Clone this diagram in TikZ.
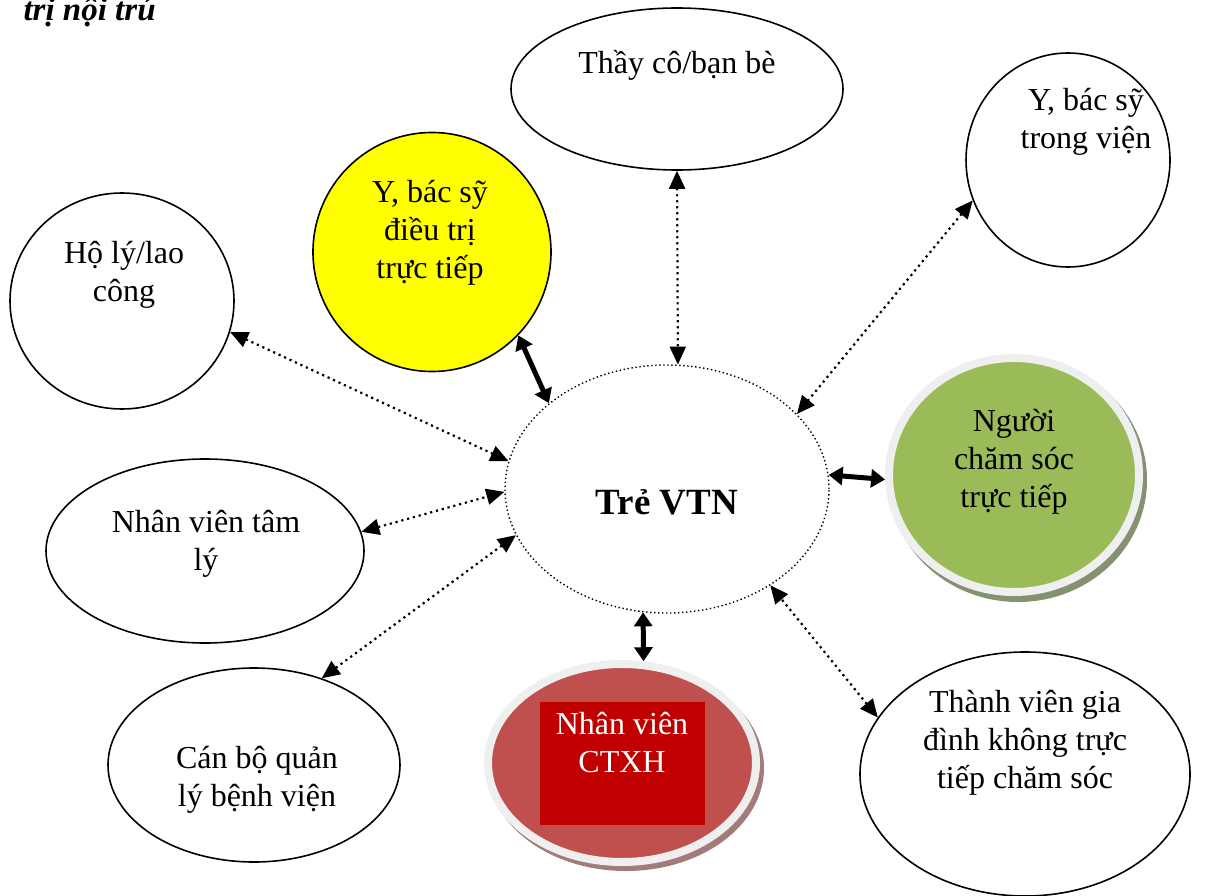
\documentclass[tikz,border=0pt]{standalone}
\usepackage{fontspec}
\setmainfont{Liberation Serif}
\usetikzlibrary{shapes.geometric,arrows.meta}
\definecolor{olivegreen}{HTML}{9BBB59}
\definecolor{olivedark}{HTML}{849270}
\definecolor{softred}{HTML}{C0504D}
\definecolor{softreddark}{HTML}{A27B7A}
\definecolor{deepred}{HTML}{C00000}
\definecolor{rimgray}{HTML}{EFEFEF}
\definecolor{sunyellow}{HTML}{FFFF00}
\tikzset{
  actor/.style={ellipse, draw, line width=1.6pt, inner sep=0pt},
  lbl/.style={align=center, font=\fontsize{32}{38}\selectfont},
  weak/.style={{Triangle[length=18pt,width=16pt]}-{Triangle[length=18pt,width=16pt]},
    line width=2.2pt, dash pattern=on 2.2pt off 3.8pt},
  strong/.style={{Triangle[length=14pt,width=18pt]}-{Triangle[length=14pt,width=18pt]},
    line width=5pt},
}
\begin{document}
\begin{tikzpicture}[x=1pt,y=-1pt]
\useasboundingbox (0,0) rectangle (1220,896);
% heading, cut by the page edge
\node[anchor=base west, font=\fontsize{33}{38}\selectfont\bfseries\itshape] (head) at (20,21) {trị nội trú};

% centre
\node[ellipse, draw, line width=1.4pt, dash pattern=on 1.4pt off 2.6pt,
  minimum width=324pt, minimum height=248pt, inner sep=0pt] (vtn) at (667,489) {};
\node[font=\fontsize{37}{40}\selectfont\bfseries] (vtn-t) at (667,502) {Trẻ VTN};

% plain circles
\node[actor, minimum width=332pt, minimum height=162pt] (thay) at (677,89) {};
\node[lbl] (thay-t) at (677,65) {Thầy cô/bạn bè};
\node[actor, minimum width=204pt, minimum height=214pt] (bsvien) at (1068,160) {};
\node[lbl] (bsvien-t) at (1086,122) {Y, bác sỹ\\trong viện};
\node[actor, fill=sunyellow, minimum width=238pt, minimum height=239pt] (bsdt) at (432,252) {};
\node[lbl] (bsdt-t) at (430,233) {Y, bác sỹ\\điều trị\\trực tiếp};
\node[actor, minimum width=224pt, minimum height=216pt] (holy) at (122,301) {};
\node[lbl] (holy-t) at (124,275) {Hộ lý/lao\\công};
\node[actor, minimum width=318pt, minimum height=184pt] (tamly) at (205,551) {};
\node[lbl] (tamly-t) at (206,544) {Nhân viên tâm\\lý};
\node[actor, minimum width=292pt, minimum height=194pt] (canbo) at (254,765) {};
\node[lbl] (canbo-t) at (257,780) {Cán bộ quản\\lý bệnh viện};
\node[actor, minimum width=330pt, minimum height=244pt] (giadinh) at (1025,774) {};
\node[lbl] (giadinh-t) at (1025,743) {Thành viên gia\\đình không trực\\tiếp chăm sóc};

% green one, rim and shadow
\node[ellipse, fill=olivedark, minimum width=258pt, minimum height=244pt, inner sep=0pt] (chamsoc-sh) at (1018,480) {};
\node[ellipse, fill=olivegreen, draw=rimgray, line width=8pt,
  minimum width=250pt, minimum height=234pt, inner sep=0pt] (chamsoc) at (1014,475) {};
\node[lbl] (chamsoc-t) at (1014,462) {Người\\chăm sóc\\trực tiếp};

% red one
\node[ellipse, fill=softreddark, minimum width=276pt, minimum height=206pt, inner sep=0pt] (ctxh-sh) at (626,768) {};
\node[ellipse, fill=softred, draw=rimgray, line width=8pt,
  minimum width=268pt, minimum height=198pt, inner sep=0pt] (ctxh) at (622,763) {};
\node[fill=deepred, minimum width=165pt, minimum height=123pt, inner sep=0pt, anchor=north] (ctxh-box) at (622.5,702) {};
\node[lbl, text=white] (ctxh-t) at (622,743) {Nhân viên\\CTXH};

% links
\draw[weak] (thay.270) -- (vtn.85);
\draw[weak] (bsvien.203) -- (vtn.30);
\draw[strong] (bsdt.316) -- (vtn.144);
\draw[weak] (holy.344) -- (vtn.170);
\draw[weak] (tamly.7) -- (vtn.181);
\draw[weak] (canbo.52) -- (vtn.197);
\draw[strong] (ctxh.78) -- (vtn.259);
\draw[strong] (chamsoc.182) -- (vtn.5);
\draw[weak] (giadinh.159) -- (vtn.317);
\end{tikzpicture}
\end{document}
